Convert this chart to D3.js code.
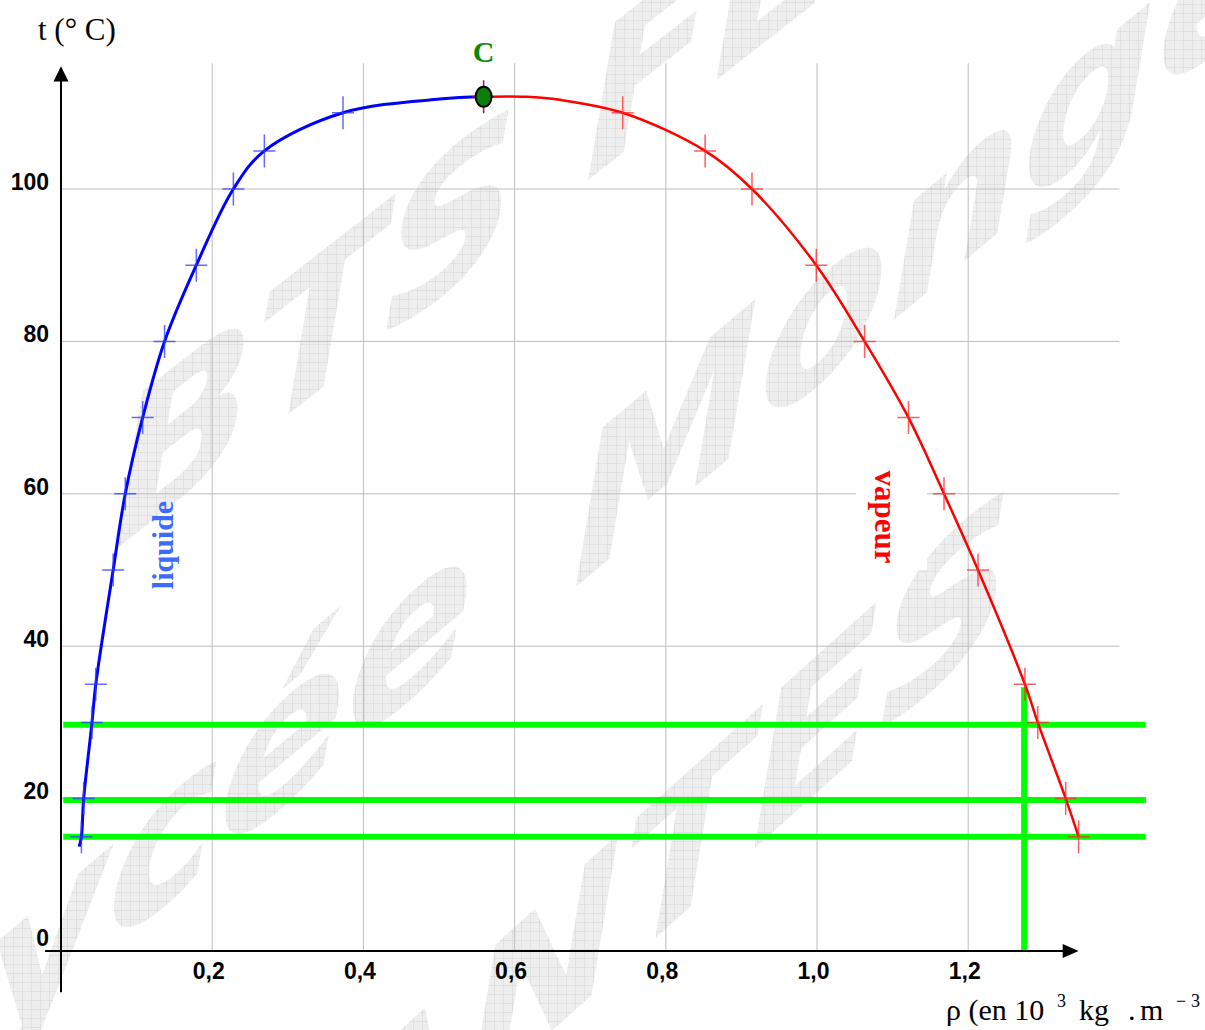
<!DOCTYPE html>
<html>
<head>
<meta charset="utf-8">
<script src="https://cdn.jsdelivr.net/npm/d3@7"></script>
<style>
  body { margin: 0; background: #fff; }
  svg { display: block; }
</style>
</head>
<body>
<div id="chart"></div>
<script>
// measured points (crosses), liquid branch
const liquidRho = [0.027, 0.030, 0.041, 0.046, 0.069, 0.085, 0.108, 0.137, 0.179, 0.228, 0.269, 0.373];
const liquidT   = [15, 20, 30, 35, 50, 60, 70, 80, 90, 100, 105, 110];
// vapour branch
const vapourRho = [0.743, 0.852, 0.914, 0.999, 1.063, 1.121, 1.168, 1.213, 1.275, 1.292, 1.329, 1.346];
const vapourT   = [110, 105, 100, 90, 80, 70, 60, 50, 35, 30, 20, 15];
// critical point C
const critRho = 0.559;
const critT = 112.1;
// extra points read on the drawn curves
const liquidCurveRho = [0.024, 0.501];
const liquidCurveT   = [13.7, 111.8];
const vapourCurveRho = [0.616, 0.660];
const vapourCurveT   = [112.1, 111.7];
// green reading lines
const greenT = [29.7, 19.8, 15];
const greenRho = 1.274;
const greenRhoTop = 34.6;

const xTicks = [0.2, 0.4, 0.6, 0.8, 1.0, 1.2];
const yTicks = [0, 20, 40, 60, 80, 100];

const W = 1205, H = 1030;
const svg = d3.select('#chart').append('svg')
  .attr('width', W)
  .attr('height', H)
  .style('background-color', 'white');

const x = d3.scaleLinear().domain([0, 1.4]).range([61, 1119.4]);
const y = d3.scaleLinear().domain([0, 100]).range([951, 189]);

// watermark ("Lycée Monge" background stamp)
const marks = [
  { txt: 'BTS FE', tx: 112, ty: 552, a: -38 },
  { txt: 'Monge',  tx: 572, ty: 590, a: -40 },
  { txt: 'Lycée',  tx: -112, ty: 1136, a: -40 },
  { txt: 'NANTES', tx: 162, ty: 1382, a: -42 }
];
const defs = svg.append('defs');
marks.forEach((m, i) => {
  const pat = defs.append('pattern').attr('id', 'wm' + i)
    .attr('width', 9).attr('height', 9)
    .attr('patternUnits', 'userSpaceOnUse')
    .attr('patternTransform', `skewY(${-m.a})`);
  pat.append('rect').attr('width', 9).attr('height', 9).attr('fill', '#eeeeee');
  pat.append('path').attr('d', 'M8.5 0V9M0 8.5H9')
    .attr('stroke', '#dcdcdc').attr('stroke-width', 0.8);
});
svg.append('g').selectAll('text')
  .data(marks)
  .enter()
  .append('text')
  .attr('transform', d => `translate(${d.tx},${d.ty}) skewY(${d.a})`)
  .style('font-family', '"DejaVu Sans", Verdana, sans-serif')
  .style('font-weight', 'bold')
  .style('font-style', 'italic')
  .style('font-size', '188px')
  .attr('xml:space', 'preserve')
  .attr('fill', (d, i) => `url(#wm${i})`)
  .text(d => d.txt);

// grid
const grid = svg.append('g').attr('stroke', '#bdbdbd').attr('stroke-width', 1);
grid.selectAll('.vg').data(xTicks).enter().append('line')
  .attr('x1', d => x(d)).attr('x2', d => x(d))
  .attr('y1', y(116.5)).attr('y2', y(0));
grid.selectAll('.hg').data(yTicks.slice(1)).enter().append('line')
  .attr('x1', x(0)).attr('x2', x(1.4))
  .attr('y1', d => y(d)).attr('y2', d => y(d));

// tick labels through d3 axes
const fmt = d => d3.format('.1f')(d).replace('.', ',');
svg.append('g')
  .attr('transform', `translate(0, ${y(0)})`)
  .call(d3.axisBottom(x).tickValues(xTicks).tickFormat(fmt).tickSize(0).tickPadding(12))
  .call(g => g.select('.domain').remove())
  .call(g => g.selectAll('text')
    .attr('dx', -4)
    .style('font-family', '"Liberation Sans", Arial, sans-serif')
    .style('font-weight', 'bold')
    .style('font-size', '23px')
    .attr('fill', '#000'));

svg.append('g')
  .attr('transform', `translate(${x(0)}, 0)`)
  .call(d3.axisLeft(y).tickValues(yTicks).tickFormat(d3.format('d')).tickSize(0).tickPadding(12))
  .call(g => g.select('.domain').remove())
  .call(g => g.selectAll('text')
    .attr('y', d => d === 0 ? -13 : -7)
    .style('font-family', '"Liberation Sans", Arial, sans-serif')
    .style('font-weight', 'bold')
    .style('font-size', '23px')
    .attr('fill', '#000'));

// green reading lines
const green = svg.append('g').attr('stroke', '#00ff00').attr('stroke-width', 6);
green.selectAll('line.h').data(greenT).enter().append('line')
  .attr('x1', x(0.003)).attr('x2', x(1.435))
  .attr('y1', d => y(d)).attr('y2', d => y(d));
green.append('line')
  .attr('x1', x(greenRho)).attr('x2', x(greenRho))
  .attr('y1', y(greenRhoTop)).attr('y2', y(0));

// axes with arrows
const ax = svg.append('g');
ax.append('line')
  .attr('x1', x(0)).attr('x2', x(0))
  .attr('y1', y(-5.4)).attr('y2', y(114.5))
  .attr('stroke', '#000').attr('stroke-width', 2);
ax.append('path')
  .attr('d', `M${x(0)},${y(116.1)} L${x(0) - 7.5},${y(114.1)} L${x(0) + 7.5},${y(114.1)} Z`)
  .attr('fill', '#000');
ax.append('line')
  .attr('x1', x(-0.021)).attr('x2', x(1.327))
  .attr('y1', y(0)).attr('y2', y(0))
  .attr('stroke', '#000').attr('stroke-width', 2);
ax.append('path')
  .attr('d', `M${x(1.346)},${y(0)} L${x(1.325)},${y(0) - 7} L${x(1.325)},${y(0) + 7} Z`)
  .attr('fill', '#000');

// curves
const line = d3.line()
  .x(d => x(d[0]))
  .y(d => y(d[1]))
  .curve(d3.curveCatmullRom.alpha(0.5));

const liqPts = liquidRho.map((r, i) => [r, liquidT[i]])
  .concat(liquidCurveRho.map((r, i) => [r, liquidCurveT[i]]))
  .sort((a, b) => a[1] - b[1]);
liqPts.push([critRho, critT]);

const vapPts = vapourRho.map((r, i) => [r, vapourT[i]])
  .concat(vapourCurveRho.map((r, i) => [r, vapourCurveT[i]]))
  .sort((a, b) => a[0] - b[0]);
vapPts.unshift([critRho, critT]);

svg.append('path').datum(liqPts)
  .attr('d', line).attr('fill', 'none')
  .attr('stroke', '#0000ff').attr('stroke-width', 3);
svg.append('path').datum(vapPts)
  .attr('d', line).attr('fill', 'none')
  .attr('stroke', '#ff0000').attr('stroke-width', 2.5);

// crosses
function cross(px, py) {
  return `M${px - 11},${py}H${px + 11}M${px},${py - 16.5}V${py + 16.5}`;
}
svg.append('g').selectAll('path')
  .data(liquidRho)
  .enter().append('path')
  .attr('d', (d, i) => cross(x(d), y(liquidT[i])))
  .attr('stroke', 'rgba(40,60,255,0.75)').attr('stroke-width', 1.5);
svg.append('g').selectAll('path')
  .data(vapourRho)
  .enter().append('path')
  .attr('d', (d, i) => cross(x(d), y(vapourT[i])))
  .attr('stroke', 'rgba(255,40,40,0.75)').attr('stroke-width', 1.5);

// critical point
svg.append('path')
  .attr('d', cross(x(critRho), y(critT)))
  .attr('stroke', '#a0104a').attr('stroke-width', 1.5);
svg.append('ellipse')
  .attr('cx', x(critRho)).attr('cy', y(critT))
  .attr('rx', 8).attr('ry', 10)
  .attr('fill', '#0a800a').attr('stroke', '#000').attr('stroke-width', 2);

// texts
const serif = '"Liberation Serif", "Times New Roman", serif';
svg.append('text')
  .attr('x', 38).attr('y', 40)
  .attr('xml:space', 'preserve')
  .style('font-family', serif).style('font-size', '31px')
  .text('t (° C)');

svg.append('text')
  .attr('x', x(critRho)).attr('y', 62)
  .attr('text-anchor', 'middle')
  .style('font-family', serif).style('font-size', '30px').style('font-weight', 'bold')
  .attr('fill', '#0b860b')
  .text('C');

svg.append('text')
  .attr('transform', 'translate(173,545) rotate(-90)')
  .attr('text-anchor', 'middle')
  .style('font-family', serif).style('font-size', '30px').style('font-weight', 'bold')
  .attr('fill', '#3d6bff')
  .text('liquide');

svg.append('rect')
  .attr('x', 856).attr('y', 466).attr('width', 71).attr('height', 104)
  .attr('fill', '#fff');
svg.append('text')
  .attr('transform', 'translate(875,517) rotate(90)')
  .attr('text-anchor', 'middle')
  .style('font-family', serif).style('font-size', '31px').style('font-weight', 'bold')
  .attr('fill', '#ff0000')
  .text('vapeur');

const unit = svg.append('text')
  .attr('y', 1020)
  .style('font-family', serif).style('font-size', '30px');
unit.append('tspan').attr('x', 946).text('ρ (en 10');
unit.append('tspan').attr('x', 1057).attr('dy', -13).style('font-size', '18px').text('3');
unit.append('tspan').attr('x', 1079).attr('dy', 13).text('kg');
unit.append('tspan').attr('x', 1128).text('.');
unit.append('tspan').attr('x', 1140).text('m');
unit.append('tspan').attr('x', 1176).attr('dy', -13).style('font-size', '18px').text('−');
unit.append('tspan').attr('x', 1191).style('font-size', '18px').text('3');
</script>
</body>
</html>
